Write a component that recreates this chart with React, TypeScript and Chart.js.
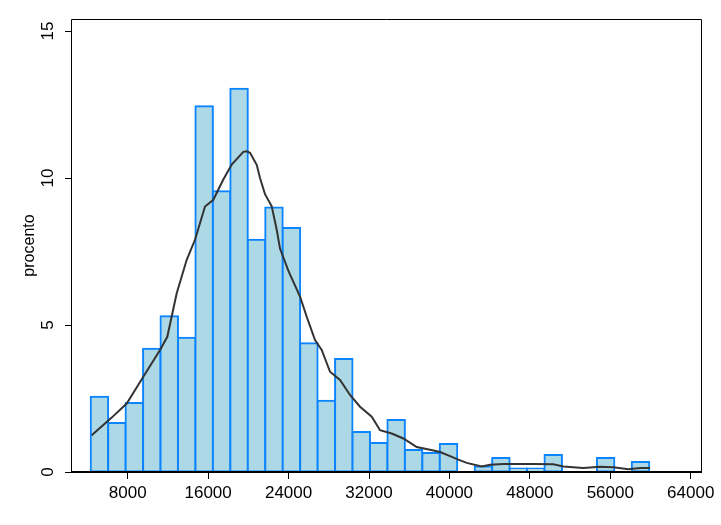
import React, { useEffect, useRef } from 'react';
import { Chart, registerables } from 'chart.js';

Chart.register(...registerables);

// Histogram bin centres (income) and percentage of observations per bin
const binCenters = [
  5188, 6924, 8660, 10396, 12132, 13868, 15604, 17340, 19076, 20812, 22548,
  24284, 26020, 27756, 29492, 31228, 32964, 34700, 36436, 38172, 39908,
  41644, 43380, 45116, 46852, 48588, 50324, 52060, 53796, 55532, 57268, 59004,
];
const percentValues: (number | null)[] = [
  2.56, 1.67, 2.35, 4.19, 5.3, 4.57, 12.44, 9.55, 13.04, 7.9, 9.0,
  8.3, 4.38, 2.42, 3.84, 1.36, 0.99, 1.77, 0.75, 0.65, 0.95,
  null, 0.19, 0.48, 0.12, 0.12, 0.58, null, null, 0.48, null, 0.34,
];

// Kernel density curve (scaled to percent)
const densityX = [
  4419, 6408, 7901, 9552, 11213, 11939, 12874, 13869, 14694, 15689, 16515,
  17509, 18345, 19499, 19837, 20165, 20832, 21160, 21657, 22324, 22821,
  23149, 23975, 25139, 25805, 26631, 27297, 28123, 29118, 30113, 31107,
  32271, 33096, 34260, 35414, 36747, 38070, 39065, 40060, 40885, 41721,
  43213, 44038, 45361, 47022, 48345, 50334, 51329, 53318, 54979, 56302,
  57794, 58958, 59953,
];
const densityY = [
  1.25, 1.85, 2.33, 3.24, 4.15, 4.6, 6.08, 7.22, 7.9, 9.03, 9.26,
  9.95, 10.46, 10.89, 10.91, 10.86, 10.45, 10.0, 9.45, 9.04, 8.24,
  7.6, 6.85, 5.97, 5.28, 4.49, 4.15, 3.41, 3.13, 2.62, 2.22,
  1.88, 1.42, 1.31, 1.14, 0.85, 0.76, 0.68, 0.54, 0.42, 0.31,
  0.19, 0.25, 0.27, 0.27, 0.27, 0.26, 0.19, 0.14, 0.18, 0.16,
  0.09, 0.14, 0.14,
];

const xTickValues = [8000, 16000, 24000, 32000, 40000, 48000, 56000, 64000];
const yTickValues = [0, 5, 10, 15];
const yTitle = 'procento';

const FONT = '"Liberation Sans", Arial, sans-serif';

export default function App() {
  const ref = useRef<HTMLCanvasElement>(null);

  useEffect(() => {
    document.body.style.margin = '0';
    const canvas = ref.current;
    if (!canvas) return;

    const framePlugin = {
      id: 'frame',
      afterDatasetsDraw(chart: any) {
        const { ctx, chartArea: a } = chart;
        ctx.save();
        ctx.strokeStyle = '#000';
        ctx.lineWidth = 1;
        ctx.beginPath();
        ctx.moveTo(a.left - 0.5, a.bottom);
        ctx.lineTo(a.left - 0.5, a.top + 0.5);
        ctx.lineTo(a.right - 0.5, a.top + 0.5);
        ctx.lineTo(a.right - 0.5, a.bottom);
        ctx.stroke();
        ctx.lineWidth = 2;
        ctx.beginPath();
        ctx.moveTo(a.left - 1, a.bottom);
        ctx.lineTo(a.right, a.bottom);
        ctx.stroke();
        ctx.restore();
      },
    };

    const chart = new Chart(canvas, {
      type: 'bar',
      data: {
        datasets: [
          {
            type: 'line',
            data: densityX.map((x, i) => ({ x, y: densityY[i] })),
            borderColor: '#333333',
            borderWidth: 2,
            pointRadius: 0,
            tension: 0,
            fill: false,
            order: 0,
          } as any,
          {
            type: 'bar',
            data: binCenters.map((x, i) => ({ x, y: percentValues[i] })),
            backgroundColor: '#add8e6',
            borderColor: '#0a84ff',
            borderWidth: 2,
            borderSkipped: false,
            inflateAmount: 1,
            barPercentage: 1,
            categoryPercentage: 1,
            order: 1,
          } as any,
        ],
      },
      plugins: [framePlugin],
      options: {
        responsive: false,
        animation: false,
        events: [],
        layout: { padding: { left: 0, top: 19, right: 19, bottom: 0 } },
        plugins: { legend: { display: false }, tooltip: { enabled: false } },
        scales: {
          x: {
            type: 'linear',
            min: 2460,
            max: 65120,
            offset: false,
            afterFit: (s: any) => { s.height = 53; },
            afterBuildTicks: (s: any) => { s.ticks = xTickValues.map((v) => ({ value: v })); },
            border: { display: false },
            grid: { display: true, drawOnChartArea: false, drawTicks: true, tickLength: 7, color: '#000', offset: false },
            ticks: {
              autoSkip: false,
              maxRotation: 0,
              minRotation: 0,
              padding: 4,
              color: '#000',
              font: { family: FONT, size: 17 },
              callback: (v: any) => String(v),
            },
          },
          y: {
            type: 'linear',
            min: 0,
            max: 15.41,
            afterFit: (s: any) => { s.width = 72; },
            afterBuildTicks: (s: any) => { s.ticks = yTickValues.map((v) => ({ value: v })); },
            border: { display: false },
            grid: { display: true, drawOnChartArea: false, drawTicks: true, tickLength: 7, color: '#000' },
            title: {
              display: true,
              text: yTitle,
              color: '#000',
              font: { family: FONT, size: 16 },
              padding: { top: 20, bottom: 0 },
            },
            ticks: {
              minRotation: 90,
              maxRotation: 90,
              crossAlign: 'center',
              padding: 7,
              color: '#000',
              font: { family: FONT, size: 17 },
              callback: (v: any) => String(v),
            },
          },
        },
      } as any,
    });

    return () => chart.destroy();
  }, []);

  return (
    <div style={{ position: 'absolute', left: 0, top: 0, width: 721, height: 525 }}>
      <canvas ref={ref} width={721} height={525} style={{ display: 'block' }} />
    </div>
  );
}
